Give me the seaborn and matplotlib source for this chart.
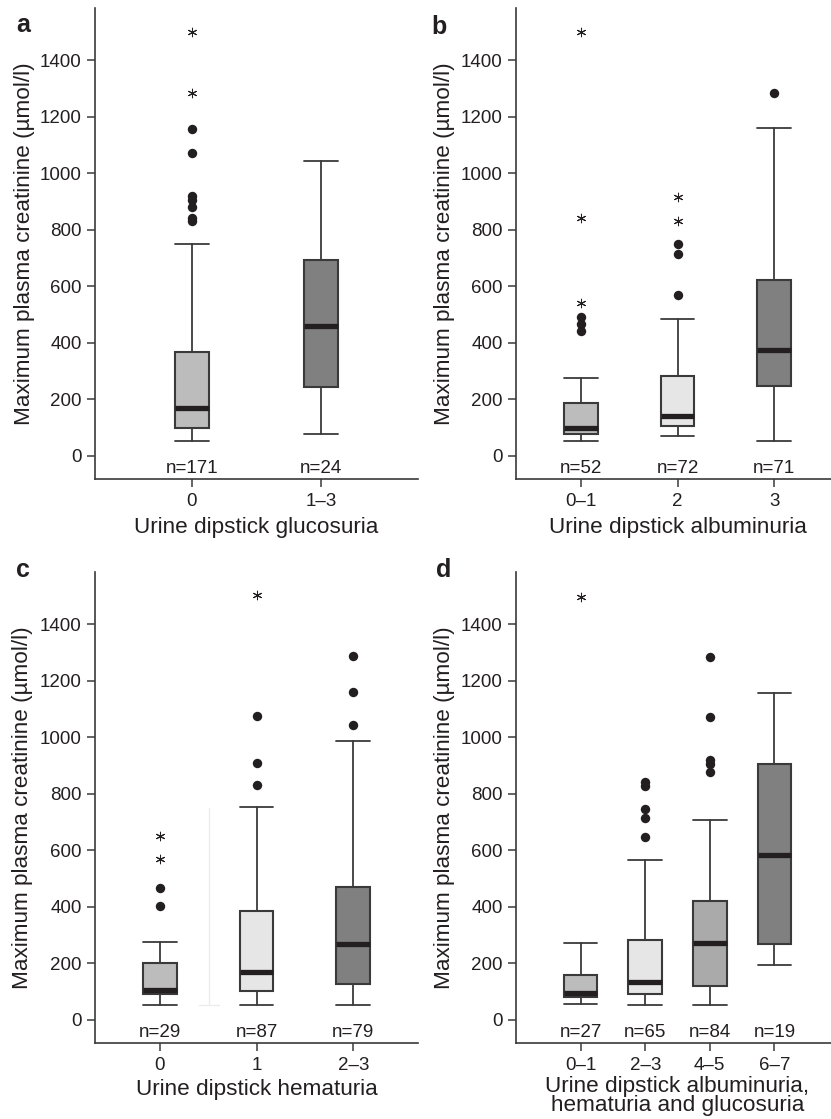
import numpy as np
import pandas as pd
import matplotlib
matplotlib.use("Agg")
import matplotlib.pyplot as plt
import seaborn as sns

sns.set_style("ticks")
plt.rcParams['font.family'] = ['Liberation Sans', 'DejaVu Sans']

# ---------------- data ----------------
a_categories = ["0", "1\u20133"]
a_n = [171, 24]
a_whislo = [52, 78]
a_q1 = [97, 244]
a_med = [168, 460]
a_q3 = [366, 692]
a_whishi = [749, 1042]
a_outliers = [[1156, 1071, 918, 905, 879, 840, 832], []]
a_extremes = [[1498, 1284], []]
a_colors = ["#bcbcbc", "#808080"]
a_xlabel = "Urine dipstick glucosuria"

b_categories = ["0\u20131", "2", "3"]
b_n = [52, 72, 71]
b_whislo = [52, 71, 52]
b_q1 = [78, 105, 248]
b_med = [99, 142, 373]
b_q3 = [186, 283, 622]
b_whishi = [274, 484, 1158]
b_outliers = [[490, 466, 443], [569, 714, 748], [1284]]
b_extremes = [[539, 840, 1498], [830, 916], []]
b_colors = ["#bcbcbc", "#e6e6e6", "#808080"]
b_xlabel = "Urine dipstick albuminuria"

c_categories = ["0", "1", "2\u20133"]
c_n = [29, 87, 79]
c_whislo = [53, 53, 53]
c_q1 = [91, 103, 125]
c_med = [104, 169, 269]
c_q3 = [200, 386, 471]
c_whishi = [275, 751, 985]
c_outliers = [[465, 404], [832, 909, 1075], [1044, 1158, 1288]]
c_extremes = [[570, 650], [1503], []]
c_colors = ["#bcbcbc", "#e6e6e6", "#808080"]
c_xlabel = "Urine dipstick hematuria"
c_ghost_range = [52, 750]   # faint stray whisker between groups 0 and 1

d_categories = ["0\u20131", "2\u20133", "4\u20135", "6\u20137"]
d_n = [27, 65, 84, 19]
d_whislo = [57, 51, 51, 195]
d_q1 = [82, 91, 121, 269]
d_med = [94, 133, 270, 584]
d_q3 = [158, 283, 420, 903]
d_whishi = [272, 566, 706, 1156]
d_outliers = [[], [646, 712, 747, 827, 841], [875, 904, 918, 1070, 1283], []]
d_extremes = [[1495], [], [], []]
d_colors = ["#bcbcbc", "#e6e6e6", "#aaaaaa", "#808080"]
d_xlabel = "Urine dipstick albuminuria,\nhematuria and glucosuria"

y_ticks = [0, 200, 400, 600, 800, 1000, 1200, 1400]
y_label = "Maximum plasma creatinine (\u00b5mol/l)"

# ---------------- style ----------------
W, H = 831, 1119
DPI = 100
TXT = "#231f20"
EDGE = "#3a3a3a"
FS = 13.5       # tick labels and n= labels
FS_LAB = 16.2   # axis titles
box_px = 33.5
axw_px = 323

fig = plt.figure(figsize=(W / DPI, H / DPI), dpi=DPI)


def make_axes(left_px, top_px, bottom_px):
    return fig.add_axes([left_px / W, 1 - bottom_px / H, axw_px / W, (bottom_px - top_px) / H])


def draw_panel(ax, cats, n, wlo, q1, med, q3, whi, outl, extr, colors, xlabel, label, xlim,
               label_xy, xlabelpad=4.5):
    k = len(cats)
    pos = np.arange(k)
    units_per_px = (xlim[1] - xlim[0]) / axw_px
    width = box_px * units_per_px
    stats = []
    for i in range(k):
        stats.append(dict(med=med[i], q1=q1[i], q3=q3[i], whislo=wlo[i], whishi=whi[i], fliers=[]))
    bp = ax.bxp(stats, positions=pos, widths=width, patch_artist=True, showfliers=False,
                boxprops=dict(edgecolor=EDGE, linewidth=1.5),
                whiskerprops=dict(color=EDGE, linewidth=1.3),
                capprops=dict(color=EDGE, linewidth=1.3),
                medianprops=dict(color=TXT, linewidth=3.8, solid_capstyle='butt'),
                capwidths=width, manage_ticks=False)
    for patch, c in zip(bp['boxes'], colors):
        patch.set_facecolor(c)
    # outliers (dots) and extremes (asterisks)
    ox = [pos[i] for i in range(k) for _ in outl[i]]
    oy = [v for i in range(k) for v in outl[i]]
    ex = [pos[i] for i in range(k) for _ in extr[i]]
    ey = [v for i in range(k) for v in extr[i]]
    if ox:
        sns.scatterplot(x=ox, y=oy, ax=ax, marker='o', s=46, color=TXT, edgecolor=TXT,
                        linewidth=0, zorder=5, legend=False)
    if ex:
        sns.scatterplot(x=ex, y=ey, ax=ax, marker=(6, 2, 0), s=38, color=TXT, edgecolor=TXT,
                        linewidth=0.75, zorder=5, legend=False)
    for i in range(k):
        ax.text(pos[i], -45, f"n={n[i]}", ha='center', va='center', fontsize=FS, color=TXT)
    ax.set_xlim(*xlim)
    ax.set_ylim(-82, 1584)
    ax.set_xticks(pos)
    ax.set_xticklabels(cats)
    ax.set_yticks(y_ticks)
    ax.set_yticklabels([str(t) for t in y_ticks])
    ax.tick_params(axis='both', labelsize=FS, colors=EDGE, labelcolor=TXT,
                   length=5.5, width=1.1, direction='out')
    ax.tick_params(axis='y', pad=4)
    ax.tick_params(axis='x', pad=5)
    for s in ['top', 'right']:
        ax.spines[s].set_visible(False)
    for s in ['left', 'bottom']:
        ax.spines[s].set_color(EDGE)
        ax.spines[s].set_linewidth(1.2)
    ax.set_xlabel(xlabel, fontsize=FS_LAB, color=TXT, labelpad=xlabelpad, linespacing=0.88)
    ax.set_ylabel("")
    fig.text(label_xy[0] / W, 1 - label_xy[1] / H, label, fontsize=18, fontweight='bold',
             color=TXT, ha='left', va='baseline')
    return pos


ax_a = make_axes(95, 8, 478.9)
ax_b = make_axes(516, 8, 478.9)
ax_c = make_axes(95, 572, 1042.9)
ax_d = make_axes(516, 572, 1042.9)

draw_panel(ax_a, a_categories, a_n, a_whislo, a_q1, a_med, a_q3, a_whishi, a_outliers, a_extremes,
           a_colors, a_xlabel, "a", (-0.75, 1.75), (16, 32))
draw_panel(ax_b, b_categories, b_n, b_whislo, b_q1, b_med, b_q3, b_whishi, b_outliers, b_extremes,
           b_colors, b_xlabel, "b", (-0.67, 2.67), (431, 34))
draw_panel(ax_c, c_categories, c_n, c_whislo, c_q1, c_med, c_q3, c_whishi, c_outliers, c_extremes,
           c_colors, c_xlabel, "c", (-0.67, 2.67), (16, 577), xlabelpad=3)
draw_panel(ax_d, d_categories, d_n, d_whislo, d_q1, d_med, d_q3, d_whishi, d_outliers, d_extremes,
           d_colors, d_xlabel, "d", (-1.0, 4.0), (436, 577), xlabelpad=1.0)

# faint stray whisker in panel c
ax_c.plot([0.51, 0.51], c_ghost_range, color="#ececec", linewidth=1.0, zorder=1)
ax_c.plot([0.41, 0.61], [c_ghost_range[0], c_ghost_range[0]], color="#ececec", linewidth=1.0, zorder=1)

# y-axis labels
for (x_px, y_px) in [(24.5, 243.5), (444, 243.5), (22.5, 807.5), (444, 807.5)]:
    fig.text(x_px / W, 1 - y_px / H, y_label, rotation=90, ha='center', va='center',
             fontsize=FS_LAB, color=TXT)

fig.savefig("out.png", dpi=DPI)
